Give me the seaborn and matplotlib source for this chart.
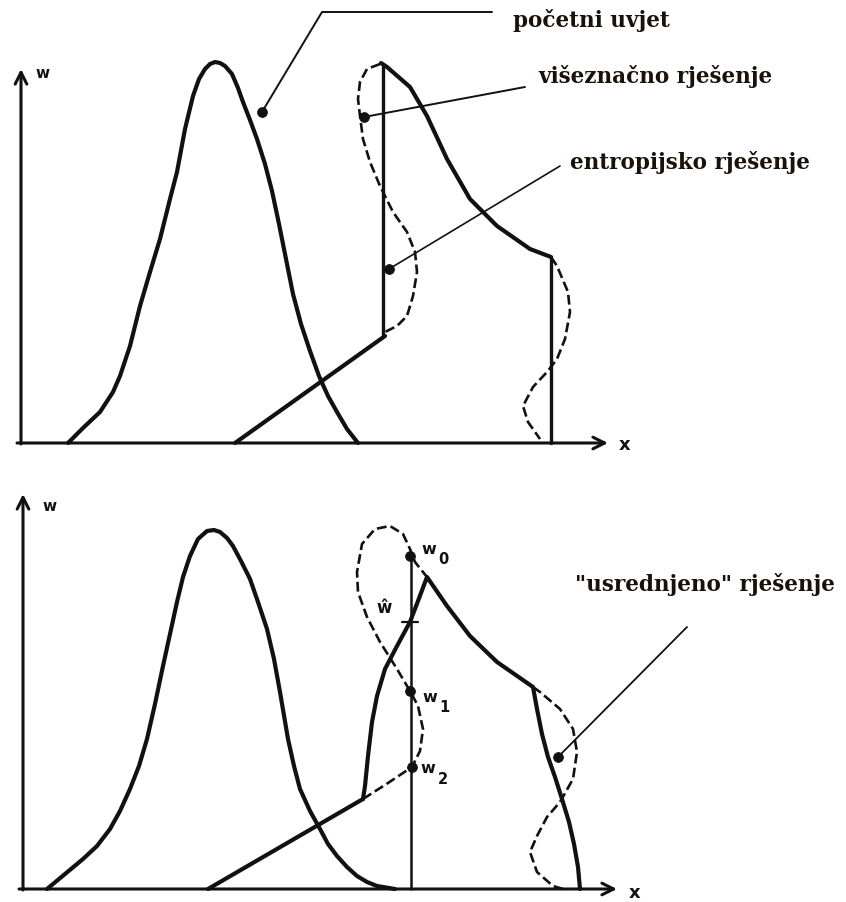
import matplotlib
matplotlib.use("Agg")
import matplotlib.pyplot as plt
import seaborn as sns
import numpy as np

sns.set_theme(style="white")
plt.rcParams['font.family'] = ['DejaVu Sans']

# ---------------- top panel (x right from w-axis, w up from x-axis) -------------
g1_x = [47, 62, 79, 92, 99, 109, 119, 129, 139, 149, 156, 164, 172, 178, 184, 189, 194, 199, 204, 211, 217, 222, 229,
        236, 244, 251, 258, 265, 272, 280, 289, 298, 307, 316, 326, 337]
g1_w = [0, 15, 31, 51, 67, 97, 137, 171, 204, 244, 271, 314, 347, 364, 374, 379, 381, 380, 377, 369, 355, 341, 323,
        304, 279, 252, 219, 184, 149, 119, 92, 67, 47, 31, 14, 0]

ramp1_x = [214, 364]
ramp1_w = [0, 107]
shockA_x = [362, 362]
shockA_w = [107, 379]
fall1_x = [360, 366, 389, 406, 426, 449, 476, 509, 530]
fall1_w = [380, 376, 356, 327, 284, 244, 217, 194, 186]
shockB_x = [530, 530]
shockB_w = [186, 0]
multi1_x = [359, 346, 339, 337, 339, 342, 349, 359, 372, 386, 394, 396, 392, 386, 376, 364]
multi1_w = [379, 374, 361, 344, 327, 304, 281, 257, 231, 211, 191, 171, 147, 127, 117, 111]
multi2_x = [530, 536, 547, 549, 544, 536, 526, 512, 502, 507, 519]
multi2_w = [186, 177, 151, 131, 104, 84, 71, 56, 37, 21, 4]

dots1_x = [241, 343, 368]
dots1_w = [331, 326, 174]
lead1_x = [241, 301, 471]
lead1_w = [331, 431, 431]
lead2_x = [343, 504]
lead2_w = [326, 356]
lead3_x = [368, 539]
lead3_w = [174, 277]
labels1 = ["početni uvjet", "višeznačno rješenje", "entropijsko rješenje"]
labels1_x = [492, 517, 549]
labels1_w = [424, 367, 281]

# ---------------- bottom panel -------------
g2_x = [24, 42, 60, 74, 87, 97, 107, 116, 124, 132, 140, 147, 154, 160, 167, 175, 184, 191, 197, 204, 210, 218, 227,
        235, 244, 251, 257, 265, 271, 277, 287, 297, 305, 314, 324, 334, 344, 354, 372]
g2_w = [0, 15, 30, 43, 60, 78, 100, 123, 150, 185, 223, 255, 287, 312, 333, 350, 358, 359, 357, 351, 343, 328, 310,
        287, 260, 230, 197, 150, 123, 100, 78, 60, 45, 33, 22, 13, 7, 3, 0]
ramp2_x = [185, 340]
ramp2_w = [0, 90]
avg_x = [340, 342, 345, 349, 354, 362, 374, 387, 395, 404, 424, 447, 474, 510,
         514, 519, 525, 532, 539, 546, 551, 555, 557]
avg_w = [90, 103, 133, 167, 193, 220, 243, 267, 288, 312, 283, 253, 227, 202,
         180, 155, 132, 112, 90, 67, 45, 22, 0]
vline_x = [388, 388]
vline_w = [0, 333]
loop_x = [340, 365, 389, 397, 400, 395, 387, 374, 357, 344, 335, 334, 339, 352, 367, 380, 387, 392, 404]
loop_w = [90, 106, 122, 138, 160, 183, 198, 220, 247, 272, 297, 317, 345, 360, 363, 355, 340, 327, 312]
multi3_x = [510, 517, 537, 550, 554, 550, 537, 524, 514, 507, 514, 530, 540]
multi3_w = [202, 197, 180, 160, 137, 110, 87, 72, 53, 37, 17, 3, 0]
dots2_x = [387, 387, 389, 535]
dots2_w = [333, 198, 122, 132]
lead4_x = [535, 664]
lead4_w = [132, 262]
sub_labels = ["0", "1", "2"]
sub_w_x = [406, 407, 405]
sub_w_w = [341, 193, 121]
sub_n_x = [420, 421, 420]
sub_n_w = [331, 182, 110]
hat_x, hat_w = 361, 282
tick_x = [379, 395]
tick_w = [267, 267]
label2 = '"usrednjeno" rješenje'
label2_x, label2_w = 552, 305

W, H = 846, 903
fig = plt.figure(figsize=(W / 100, H / 100), dpi=100)
fig.patch.set_facecolor("white")
ax1 = fig.add_axes([0, (H - 460) / H, 1, 460 / H])
ax2 = fig.add_axes([0, 0, 1, 443 / H])
ax1.set_xlim(-21, W - 21)
ax1.set_ylim(-16, 444)
ax2.set_xlim(-23, W - 23)
ax2.set_ylim(-13, 430)
for ax in (ax1, ax2):
    ax.axis("off")

K = "#111111"
TXT = "#1a1208"
serif = dict(family="DejaVu Serif", fontweight="bold", fontsize=15.5, color=TXT, va="center", ha="left")


def line(ax, x, y, lw, ls="-"):
    sns.lineplot(x=x, y=y, ax=ax, sort=False, estimator=None, color=K, lw=lw,
                 linestyle=ls, solid_capstyle="round", solid_joinstyle="round",
                 dash_capstyle="butt", legend=False)


def axes_arrows(ax, ytop, xend, wlab, xlab):
    arr = dict(arrowstyle="->,head_length=0.7,head_width=0.35", lw=2.2, color=K, shrinkA=0, shrinkB=0)
    ax.annotate("", xy=(0, ytop), xytext=(0, -1), arrowprops=arr)
    ax.annotate("", xy=(xend, 0), xytext=(-4, 0), arrowprops=arr)
    ax.text(wlab[0], wlab[1], "w", fontsize=11, fontweight="bold", color=K, ha="center", va="center")
    ax.text(xlab[0], xlab[1], "x", fontsize=13, fontweight="bold", color=K, ha="center", va="center")


# top
axes_arrows(ax1, 374, 587, (22, 371), (604, -1))
line(ax1, g1_x, g1_w, 3.0)
line(ax1, ramp1_x, ramp1_w, 3.0)
line(ax1, shockA_x, shockA_w, 2.4)
line(ax1, fall1_x, fall1_w, 3.0)
line(ax1, shockB_x, shockB_w, 2.4)
line(ax1, multi1_x, multi1_w, 1.9, "--")
line(ax1, multi2_x, multi2_w, 1.9, "--")
line(ax1, lead1_x, lead1_w, 1.4)
line(ax1, lead2_x, lead2_w, 1.4)
line(ax1, lead3_x, lead3_w, 1.2)
sns.scatterplot(x=dots1_x, y=dots1_w, ax=ax1, s=50, color=K, edgecolor=K, zorder=5, legend=False)
for t, x, y in zip(labels1, labels1_x, labels1_w):
    ax1.text(x, y, t, **serif)

# bottom
axes_arrows(ax2, 395, 594, (27, 383), (612, -3))
line(ax2, g2_x, g2_w, 3.0)
line(ax2, ramp2_x, ramp2_w, 3.0)
line(ax2, avg_x, avg_w, 3.0)
line(ax2, vline_x, vline_w, 1.8)
line(ax2, tick_x, tick_w, 1.6)
line(ax2, loop_x, loop_w, 1.9, "--")
line(ax2, multi3_x, multi3_w, 1.9, "--")
line(ax2, lead4_x, lead4_w, 1.3)
sns.scatterplot(x=dots2_x, y=dots2_w, ax=ax2, s=50, color=K, edgecolor=K, zorder=5, legend=False)
for s_, wx, ww, nx, nw in zip(sub_labels, sub_w_x, sub_w_w, sub_n_x, sub_n_w):
    ax2.text(wx, ww, "w", fontsize=11.5, fontweight="bold", color=K, ha="center", va="center")
    ax2.text(nx, nw, s_, fontsize=10.5, fontweight="bold", color=K, ha="center", va="center")
ax2.text(hat_x, hat_w, "ŵ", fontsize=12, fontweight="bold", color=K, ha="center", va="center")
ax2.text(label2_x, label2_w, label2, **serif)

fig.savefig("out.png", dpi=100, facecolor="white")
